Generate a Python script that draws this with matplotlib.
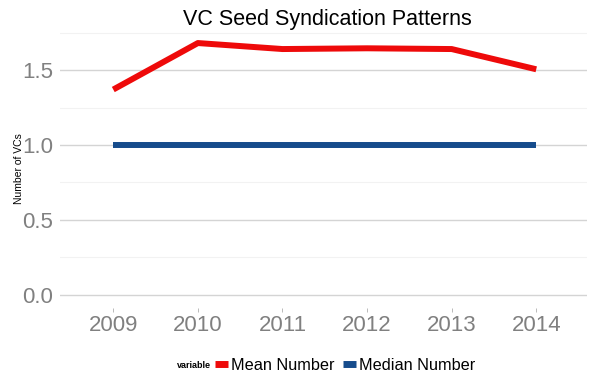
import matplotlib
matplotlib.use("Agg")
import matplotlib.pyplot as plt
from matplotlib.lines import Line2D

plt.rcParams["font.family"] = ["Liberation Sans", "DejaVu Sans"]

years = [2009, 2010, 2011, 2012, 2013, 2014]
mean_number = [1.37, 1.68, 1.64, 1.645, 1.64, 1.505]
median_number = [1.0, 1.0, 1.0, 1.0, 1.0, 1.0]

RED = "#ee0a0a"
BLUE = "#164c8c"
GRAY = "#808080"

W, H = 600, 386
fig = plt.figure(figsize=(W / 100, H / 100), dpi=100)
# panel: x 60..587 px, y 30..308 px
ax = fig.add_axes([60 / W, 1 - 308 / H, 527 / W, 278 / H])

ax.plot(years, mean_number, color=RED, linewidth=4.3, solid_capstyle="butt", zorder=3)
ax.plot(years, median_number, color=BLUE, linewidth=4.3, solid_capstyle="butt", zorder=3)

ax.set_xlim(2008.37, 2014.6)
ax.set_ylim(-0.087, 1.767)
ax.set_xticks(years)
ax.set_yticks([0.0, 0.5, 1.0, 1.5])
ax.set_yticks([0.25, 0.75, 1.25, 1.75], minor=True)
ax.set_yticklabels(["0.0", "0.5", "1.0", "1.5"])

for s in ax.spines.values():
    s.set_visible(False)
ax.grid(axis="y", which="major", color="#d4d4d4", linewidth=1.0, zorder=0)
ax.grid(axis="y", which="minor", color="#f2f2f2", linewidth=0.8, zorder=0)
ax.grid(axis="x", which="major", color="white", linewidth=1.0, zorder=1)

ax.tick_params(axis="both", which="major", labelsize=16, labelcolor=GRAY,
               color="#b0b0b0", length=3, width=0.6)
ax.tick_params(axis="x", which="major", pad=2)
ax.tick_params(axis="y", which="major", length=0, pad=5)
ax.tick_params(axis="y", which="minor", length=0)

fig.text(19 / W, 1 - 169 / H, "Number of VCs", fontsize=7.5, color="black",
         rotation=90, ha="center", va="center")
fig.text(327 / W, 1 - 19.5 / H, "VC Seed Syndication Patterns", fontsize=15.5,
         color="black", ha="center", va="center")

handles = [Line2D([], [], color=RED, linewidth=5, solid_capstyle="butt"),
           Line2D([], [], color=BLUE, linewidth=5, solid_capstyle="butt")]
leg = fig.legend(handles, ["Mean Number", "Median Number"], loc="center",
                 bbox_to_anchor=(345 / W, 1 - 365 / H), ncol=2, frameon=False,
                 fontsize=11.7, handlelength=0.8, handletextpad=0.2,
                 columnspacing=0.5, borderpad=0, borderaxespad=0)
fig.text(211 / W, 1 - 365 / H, "variable", fontsize=6.5, fontweight="bold",
         ha="right", va="center")

fig.savefig("out.png", dpi=100)
